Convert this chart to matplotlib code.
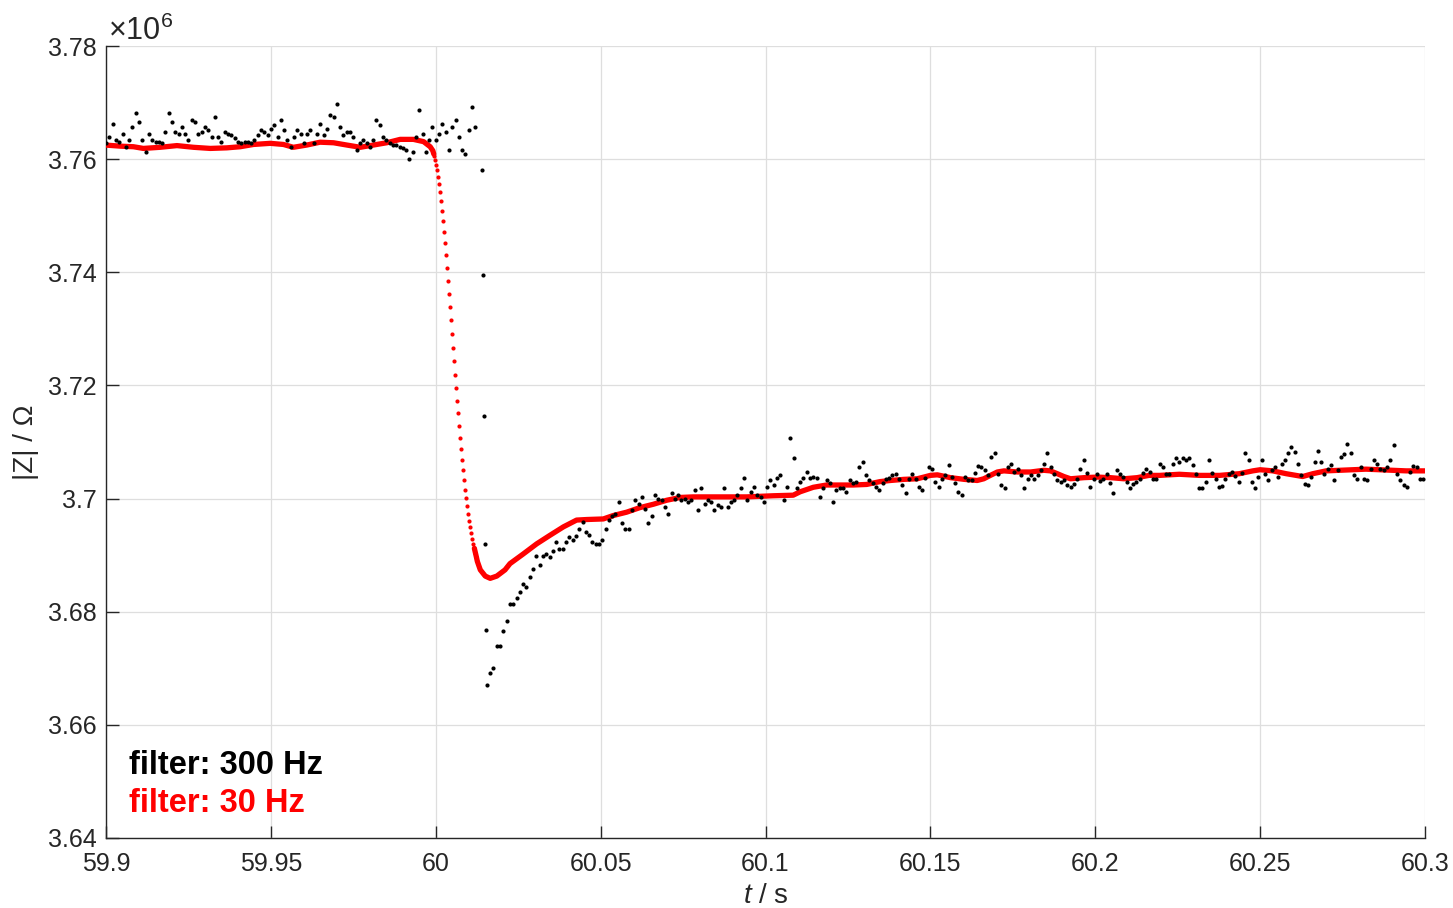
import numpy as np
import matplotlib.pyplot as plt

plt.rcParams['font.family'] = ['Liberation Sans', 'DejaVu Sans']
plt.rcParams['mathtext.fontset'] = 'custom'
plt.rcParams['mathtext.rm'] = 'Liberation Sans'
plt.rcParams['mathtext.it'] = 'Liberation Sans:italic'

# |Z| in units of 1e6 Ohm, time in s
# 300 Hz filter, before the step (sampled every 1 ms as read from the picture)
black_a_t0, black_step = 59.900, 0.001
black_a = [3.7628, 3.7640, 3.7663, 3.7634, 3.7631, 3.7645, 3.7622, 3.7634, 3.7657, 3.7681,
           3.7666, 3.7634, 3.7613, 3.7645, 3.7634, 3.7631, 3.7631, 3.7628, 3.7648, 3.7681,
           3.7666, 3.7648, 3.7645, 3.7657, 3.7645, 3.7634, 3.7669, 3.7666, 3.7645, 3.7648,
           3.7657, 3.7651, 3.7640, 3.7675, 3.7640, 3.7631, 3.7648, 3.7645, 3.7642, 3.7637,
           3.7631, 3.7628, 3.7631, 3.7631, 3.7628, 3.7634, 3.7642, 3.7651, 3.7648, 3.7642,
           3.7654, 3.7660, 3.7640, 3.7669, 3.7651, 3.7634, 3.7622, 3.7640, 3.7651, 3.7645,
           3.7628, 3.7645, 3.7651, 3.7628, 3.7645, 3.7663, 3.7642, 3.7654, 3.7678, 3.7675,
           3.7698, 3.7657, 3.7642, 3.7648, 3.7648, 3.7640, 3.7616, 3.7628, 3.7634, 3.7628,
           3.7622, 3.7634, 3.7669, 3.7660, 3.7640, 3.7634, 3.7628, 3.7625, 3.7625, 3.7622,
           3.7619, 3.7616, 3.7601, 3.7613, 3.7640, 3.7687, 3.7645, 3.7613, 3.7634, 3.7657,
           3.7634, 3.7645, 3.7663, 3.7648, 3.7616, 3.7657, 3.7669, 3.7640, 3.7616, 3.7610,
           3.7651, 3.7693, 3.7657]

# isolated samples during the step
black_jump_t = [60.0140, 60.0143, 60.0146, 60.0149, 60.0152]
black_jump = [3.7581, 3.7396, 3.7146, 3.6919, 3.6767]

# after the step
black_b_t0 = 60.0155
black_b = [3.6671, 3.6692, 3.6701, 3.6740, 3.6740, 3.6766, 3.6784, 3.6814, 3.6814, 3.6825,
           3.6834, 3.6849, 3.6843, 3.6861, 3.6876, 3.6899, 3.6882, 3.6899, 3.6902, 3.6896,
           3.6908, 3.6923, 3.6911, 3.6911, 3.6923, 3.6932, 3.6926, 3.6933, 3.6947, 3.6959,
           3.6941, 3.6935, 3.6923, 3.6920, 3.6920, 3.6926, 3.6947, 3.6962, 3.6970, 3.6973,
           3.6994, 3.6956, 3.6947, 3.6947, 3.6979, 3.6997, 3.6991, 3.7002, 3.6982, 3.6957,
           3.6970, 3.7006, 3.7000, 3.6997, 3.6985, 3.6973, 3.7009, 3.7000, 3.7006, 3.6997,
           3.7000, 3.6994, 3.6997, 3.7015, 3.6979, 3.7018, 3.6991, 3.6997, 3.6994, 3.6979,
           3.6988, 3.6985, 3.7018, 3.6985, 3.6994, 3.6997, 3.7006, 3.7018, 3.7036, 3.6997,
           3.7012, 3.7021, 3.7006, 3.7003, 3.6994, 3.7021, 3.7033, 3.7024, 3.7036, 3.7041,
           3.6997, 3.7020, 3.7107, 3.7071, 3.7018, 3.7030, 3.7036, 3.7047, 3.7036, 3.7038,
           3.7037, 3.7003, 3.7018, 3.7033, 3.7027, 3.6994, 3.7015, 3.7018, 3.7018, 3.7012,
           3.7033, 3.7027, 3.7030, 3.7056, 3.7065, 3.7041, 3.7033, 3.7027, 3.7021, 3.7016,
           3.7027, 3.7034, 3.7037, 3.7041, 3.7044, 3.7035, 3.7024, 3.7009, 3.7035, 3.7044,
           3.7034, 3.7021, 3.7015, 3.7037, 3.7056, 3.7053, 3.7029, 3.7021, 3.7035, 3.7041,
           3.7059, 3.7038, 3.7027, 3.7012, 3.7006, 3.7038, 3.7032, 3.7032, 3.7045, 3.7057,
           3.7056, 3.7050, 3.7041, 3.7074, 3.7080, 3.7044, 3.7024, 3.7018, 3.7056, 3.7062,
           3.7047, 3.7053, 3.7041, 3.7018, 3.7035, 3.7041, 3.7034, 3.7041, 3.7050, 3.7062,
           3.7080, 3.7056, 3.7044, 3.7032, 3.7029, 3.7032, 3.7024, 3.7021, 3.7025, 3.7034,
           3.7053, 3.7068, 3.7045, 3.7021, 3.7034, 3.7044, 3.7031, 3.7035, 3.7043, 3.7028,
           3.7010, 3.7050, 3.7044, 3.7039, 3.7029, 3.7018, 3.7025, 3.7029, 3.7034, 3.7045,
           3.7053,
           3.7047, 3.7035, 3.7035, 3.7062, 3.7056, 3.7044, 3.7044, 3.7062, 3.7071, 3.7065,
           3.7071, 3.7068, 3.7071, 3.7059, 3.7044, 3.7018, 3.7018, 3.7029, 3.7068, 3.7045,
           3.7034, 3.7021, 3.7022, 3.7035, 3.7043, 3.7047, 3.7040, 3.7029, 3.7045, 3.7080,
           3.7068, 3.7029, 3.7019, 3.7038, 3.7068, 3.7044, 3.7032, 3.7050, 3.7056, 3.7038,
           3.7062, 3.7068, 3.7080, 3.7091, 3.7082, 3.7061, 3.7041, 3.7025, 3.7024, 3.7038,
           3.7065, 3.7084, 3.7065, 3.7044, 3.7053, 3.7059, 3.7032, 3.7050, 3.7074, 3.7078,
           3.7097, 3.7080, 3.7041, 3.7035, 3.7056, 3.7034, 3.7032, 3.7053, 3.7069, 3.7061,
           3.7053, 3.7050, 3.7056, 3.7069, 3.7094, 3.7043, 3.7032, 3.7024, 3.7021, 3.7047,
           3.7057, 3.7055, 3.7035, 3.7035]

# 30 Hz filter: smooth part before the step
red_pre_t = [59.8997, 59.9043, 59.9083, 59.9113, 59.9164, 59.9215, 59.9265, 59.9316, 59.9366,
             59.9407, 59.9447, 59.9498, 59.9538, 59.9568, 59.9609, 59.9649, 59.9690, 59.9730,
             59.9771, 59.9811, 59.9851, 59.9892, 59.9932, 59.9963, 59.9983, 59.9991, 59.9994]
red_pre = [3.7625, 3.7623, 3.7622, 3.7619, 3.7621, 3.7624, 3.7621, 3.7619, 3.7620,
           3.7622, 3.7626, 3.7628, 3.7626, 3.7621, 3.7625, 3.7630, 3.7629, 3.7625,
           3.7621, 3.7625, 3.7629, 3.7635, 3.7635, 3.7631, 3.7622, 3.7615, 3.7609]

# 30 Hz filter: individual samples through the step
red_drop_t0, red_drop_step = 59.99955, 0.000303
red_drop = [3.7606, 3.7598, 3.7589, 3.7580, 3.7569, 3.7556, 3.7542, 3.7526, 3.7509, 3.7491,
            3.7472, 3.7451, 3.7430, 3.7408, 3.7385, 3.7362, 3.7339, 3.7315, 3.7291, 3.7266,
            3.7243, 3.7219, 3.7195, 3.7173, 3.7151, 3.7128, 3.7107, 3.7087, 3.7068, 3.7051,
            3.7033, 3.7016, 3.7001, 3.6987, 3.6973, 3.6961, 3.6949, 3.6939, 3.6929, 3.6920,
            3.6912, 3.6904, 3.6897, 3.6889]

# 30 Hz filter: smooth part after the step
red_post_t = [60.0117, 60.0123, 60.0126, 60.0135, 60.0150, 60.0165, 60.0185, 60.0210, 60.0225,
              60.0265, 60.0306, 60.0346, 60.0387,
              60.0427, 60.0458, 60.0508, 60.0538, 60.0579, 60.0619, 60.0660, 60.0700, 60.0741,
              60.0781, 60.0842, 60.0943, 60.1024, 60.1084, 60.1105, 60.1145, 60.1185, 60.1266,
              60.1307, 60.1347, 60.1379, 60.1420, 60.1460, 60.1500, 60.1521, 60.1561, 60.1602,
              60.1642, 60.1662, 60.1682, 60.1703, 60.1723, 60.1763, 60.1804, 60.1844, 60.1864,
              60.1885, 60.1905, 60.1925, 60.1966, 60.2006, 60.2046, 60.2087, 60.2127, 60.2163,
              60.2195, 60.2255, 60.2316, 60.2377, 60.2437, 60.2478, 60.2500, 60.2538, 60.2579,
              60.2629, 60.2660, 60.2700, 60.2741, 60.2781, 60.2821, 60.2862, 60.2902, 60.2943,
              60.3000]
red_post = [3.6912, 3.6897, 3.6889, 3.6874, 3.6863, 3.6859, 3.6863, 3.6874, 3.6885,
            3.6902, 3.6920, 3.6935, 3.6950,
            3.6962, 3.6963, 3.6964, 3.6970, 3.6976, 3.6984, 3.6990, 3.6997, 3.7002,
            3.7003, 3.7003, 3.7003, 3.7005, 3.7006, 3.7012, 3.7020, 3.7024, 3.7024,
            3.7025, 3.7030, 3.7032, 3.7034, 3.7035, 3.7041, 3.7042, 3.7037, 3.7034,
            3.7032, 3.7035, 3.7041, 3.7047, 3.7049, 3.7047, 3.7047, 3.7050, 3.7049,
            3.7044, 3.7039, 3.7035, 3.7037, 3.7038, 3.7037, 3.7035, 3.7037, 3.7041,
            3.7041, 3.7043, 3.7041, 3.7041, 3.7044, 3.7049, 3.7051, 3.7049, 3.7044,
            3.7039, 3.7044, 3.7049, 3.7050, 3.7051, 3.7052, 3.7051, 3.7050, 3.7049,
            3.7049]

xticks = [59.9, 59.95, 60.0, 60.05, 60.1, 60.15, 60.2, 60.25, 60.3]
xtick_labels = ['59.9', '59.95', '60', '60.05', '60.1', '60.15', '60.2', '60.25', '60.3']
yticks = [3.64, 3.66, 3.68, 3.70, 3.72, 3.74, 3.76, 3.78]
ytick_labels = ['3.64', '3.66', '3.68', '3.7', '3.72', '3.74', '3.76', '3.78']

TXT = '#262626'

fig = plt.figure(figsize=(14.53, 9.08), dpi=100)
ax = fig.add_axes([0.0730, 0.0771, 0.9077, 0.8722])

t_a = black_a_t0 + black_step * np.arange(len(black_a))
t_b = black_b_t0 + black_step * np.arange(len(black_b))
t_drop = red_drop_t0 + red_drop_step * np.arange(len(red_drop))

# red (30 Hz) drawn first, black dots on top
ax.plot(red_pre_t, red_pre, color='#ff0000', lw=3.8, solid_capstyle='round', zorder=3)
ax.plot(t_drop, red_drop, ls='none', marker='o', ms=3.0, mew=0, color='#ff0000', zorder=3)
ax.plot(red_post_t, red_post, color='#ff0000', lw=3.8, solid_capstyle='round', zorder=3)

for tt, zz in [(t_a, black_a), (black_jump_t, black_jump), (t_b, black_b)]:
    ax.plot(tt, zz, ls='none', marker='o', ms=3.0, mew=0, color='black', zorder=4)

ax.set_xlim(59.9, 60.3)
ax.set_ylim(3.64, 3.78)
ax.set_xticks(xticks)
ax.set_xticklabels(xtick_labels)
ax.set_yticks(yticks)
ax.set_yticklabels(ytick_labels)

ax.grid(True, color='#dedede', lw=0.9)
ax.set_axisbelow(True)
for side in ['top', 'right']:
    ax.spines[side].set_visible(False)
for side in ['left', 'bottom']:
    ax.spines[side].set_color(TXT)
    ax.spines[side].set_linewidth(1.0)

ax.tick_params(axis='both', direction='in', length=9, width=1.0, colors=TXT,
               labelsize=18, labelcolor=TXT)
ax.tick_params(axis='x', pad=10)
ax.tick_params(axis='y', pad=7)

ax.set_xlabel(r'$t$ / s', fontsize=20, color=TXT, labelpad=5)
ax.set_ylabel('|Z| / \u03a9', fontsize=20, color=TXT, labelpad=6)

ax.text(0.0015, 1.0076, r'$\times$10$^{6}$', transform=ax.transAxes, fontsize=22,
        color=TXT, ha='left', va='baseline')

ax.text(0.0174, 0.092, 'filter: 300 Hz', transform=ax.transAxes, fontsize=23.5,
        fontweight='bold', color='black', ha='left', va='center')
ax.text(0.0174, 0.044, 'filter: 30 Hz', transform=ax.transAxes, fontsize=23.5,
        fontweight='bold', color='#ff0000', ha='left', va='center')

fig.savefig('out.png', dpi=100)
